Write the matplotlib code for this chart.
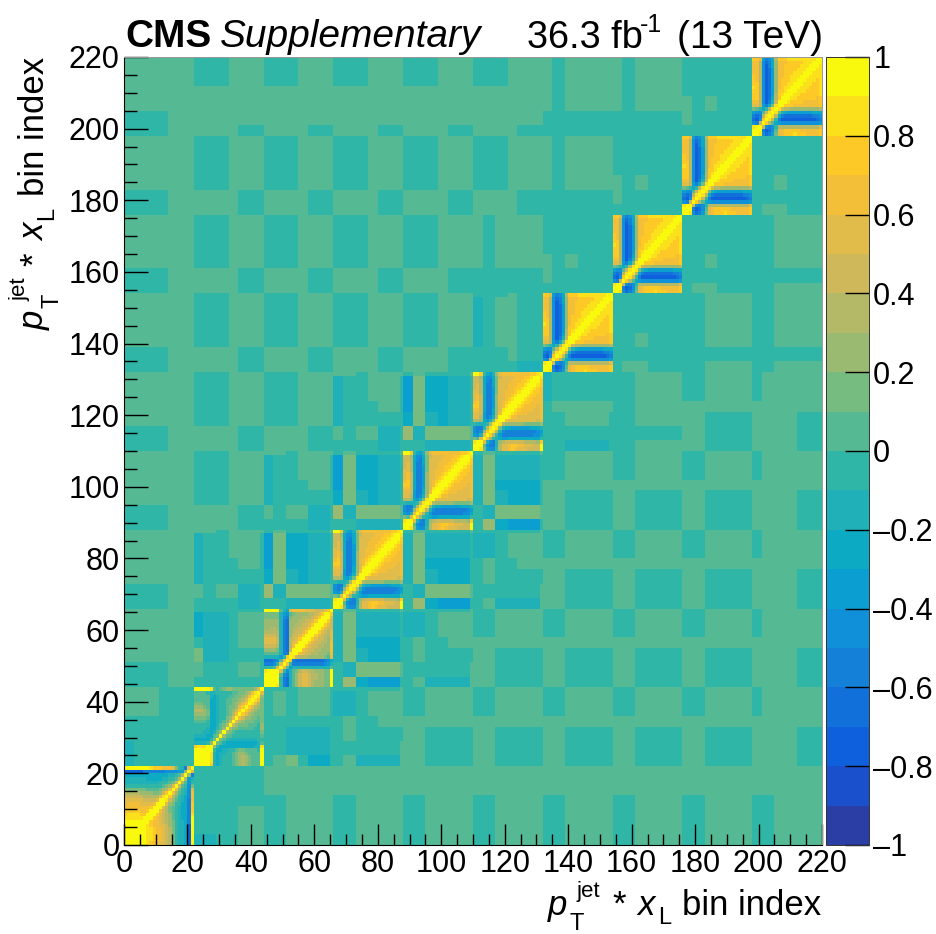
import numpy as np
import matplotlib
matplotlib.use('Agg')
import matplotlib.pyplot as plt
from matplotlib.colors import ListedColormap, BoundaryNorm

plt.rcParams['font.family'] = ['Liberation Sans', 'DejaVu Sans']

# everything below in colour bands: -10..10 means
# the band starting at value/10, so 7 is the 0.7-0.8 band

# diagonal blocks, lower triangle, 22 bins each
block0_tri = [
    [10], [10, 10], [10, 10, 10], [10, 10, 10, 10], [10, 10, 10, 10, 10],
    [9, 9, 9, 9, 10, 10],
    [9, 9, 9, 9, 9, 9, 10],
    [8, 8, 8, 8, 8, 8, 9, 10],
    [7, 8, 8, 8, 8, 7, 7, 9, 10],
    [6, 7, 7, 7, 7, 6, 6, 7, 9, 10],
    [6, 6, 6, 6, 6, 6, 6, 6, 7, 9, 10],
    [5, 6, 6, 6, 6, 5, 5, 5, 5, 6, 9, 10],
    [5, 5, 5, 5, 5, 5, 4, 4, 4, 4, 5, 9, 10],
    [4, 4, 4, 4, 4, 4, 3, 3, 3, 3, 3, 5, 8, 10],
    [3, 3, 3, 3, 3, 2, 2, 2, 2, 1, 1, 2, 4, 7, 10],
    [1, 1, 1, 1, 1, 1, 1, 0, 0, 0, 0, 1, 2, 3, 6, 10],
    [-1, -1, -1, -1, -1, -1, -1, -1, -1, -1, -1, -1, 0, 1, 2, 5, 10],
    [-2, -2, -2, -2, -2, -2, -2, -2, -2, -2, -2, -1, -1, -1, 0, 1, 4, 10],
    [-2, -2, -2, -2, -2, -2, -2, -3, -3, -3, -3, -3, -2, -2, -1, -1, 0, 3, 10],
    [-3, -3, -3, -3, -3, -3, -3, -3, -3, -3, -3, -3, -3, -3, -2, -2, -1, 0, 3, 10],
    [-8, -8, -8, -8, -8, -8, -6, -6, -6, -6, -6, -6, -6, -5, -5, -5, -5, -4, -4, 2, 10],
    [10, 10, 10, 10, 10, 10, 10, 10, 8, 7, 7, 7, 6, 6, 6, 5, 1, -1, -2, -6, 5, 10],
]
block1_tri = [
    [10], [10, 10], [10, 10, 10], [10, 10, 10, 10],
    [9, 10, 10, 10, 10],
    [7, 8, 8, 8, 9, 10],
    [-2, -2, -2, -2, -1, 2, 10],
    [-3, -3, -3, -3, -3, -1, 1, 10],
    [-2, -2, -2, -2, -3, -3, 0, 1, 10],
    [-1, -1, -1, -2, -2, -3, -2, 0, 2, 10],
    [-1, -1, -1, -1, -2, -3, -3, -1, 0, 2, 10],
    [-1, -1, -1, -1, -1, -3, -3, -2, 0, 1, 3, 10],
    [0, 0, 0, 0, -1, -3, -3, -2, -1, 0, 1, 4, 10],
    [1, 1, 1, 1, 0, -3, -3, -2, -1, -1, 1, 2, 5, 10],
    [2, 2, 2, 2, 1, -3, -3, -2, -1, -1, 0, 1, 3, 6, 10],
    [3, 3, 3, 2, 1, -3, -3, -2, -1, -1, 0, 1, 2, 4, 7, 10],
    [2, 2, 2, 1, 0, -3, -3, -2, -1, -1, 0, 1, 1, 2, 5, 7, 10],
    [1, 1, 1, 0, 0, -3, -3, -2, -1, -1, 0, 0, 1, 2, 3, 5, 7, 10],
    [0, 0, 0, 0, 0, -3, -3, -2, -1, -1, 0, 0, 1, 1, 2, 3, 5, 8, 10],
    [0, 0, 0, 0, 0, -2, -3, -2, -1, -1, -1, 0, 0, 1, 1, 2, 3, 6, 8, 10],
    [0, 0, 0, 0, -1, -2, -2, -1, -1, -1, -1, -1, 0, 0, 1, 1, 2, 3, 6, 8, 10],
    [10, 10, 10, 10, 10, 8, 0, -1, 0, 1, 2, 2, 1, 1, 1, 1, 1, 1, 1, 2, 5, 10],
]
block2_tri = [
    [10], [10, 10], [10, 10, 10], [10, 10, 10, 10],
    [8, 9, 9, 9, 10],
    [-1, -1, -1, 0, 5, 10],
    [-6, -6, -6, -5, -1, 5, 10],
    [-7, -7, -7, -6, -5, 0, 6, 10],
    [-2, -2, -2, -2, -2, -4, -1, 7, 10],
    [0, 0, 0, 0, 0, -2, -6, -6, 8, 10],
    [2, 2, 2, 2, 1, -2, -6, -7, 4, 9, 10],
    [4, 4, 4, 4, 3, -2, -6, -7, 3, 6, 9, 10],
    [5, 5, 5, 5, 4, -2, -6, -7, 3, 5, 6, 9, 10],
    [5, 5, 5, 5, 4, -2, -6, -7, 3, 4, 5, 7, 9, 10],
    [4, 4, 4, 4, 3, -2, -6, -7, 2, 4, 4, 5, 7, 9, 10],
    [3, 3, 3, 3, 3, -2, -6, -7, 2, 3, 4, 4, 5, 7, 9, 10],
    [2, 2, 3, 3, 2, -2, -6, -7, 2, 3, 3, 4, 4, 5, 7, 9, 10],
    [2, 2, 2, 2, 2, -2, -6, -7, 2, 2, 3, 3, 4, 4, 5, 7, 9, 10],
    [2, 2, 2, 2, 2, -2, -6, -7, 2, 2, 2, 3, 3, 4, 4, 5, 7, 9, 10],
    [1, 1, 1, 1, 1, -2, -5, -6, 1, 2, 2, 2, 3, 3, 3, 4, 5, 7, 9, 10],
    [1, 1, 1, 1, 1, -2, -4, -5, 0, 1, 2, 2, 2, 2, 3, 3, 4, 5, 7, 9, 10],
    [10, 10, 10, 10, 9, 0, -2, -3, 5, 6, 6, 6, 6, 5, 5, 5, 4, 4, 4, 5, 7, 10],
]
mid_tri = [
    [10], [9, 10], [8, 9, 10],
    [1, 0, 5, 10],
    [-4, -5, -2, 6, 10],
    [-5, -6, -5, 2, 7, 10],
    [-5, -6, -6, -1, 3, 8, 10],
    [-1, -2, -2, -2, -1, 3, 8, 10],
    [3, 3, 2, -3, -4, -2, 1, 8, 10],
    [5, 5, 3, -4, -6, -5, -2, 3, 9, 10],
    [5, 5, 4, -4, -6, -6, -3, 2, 6, 9, 10],
    [6, 6, 4, -3, -6, -6, -3, 2, 5, 8, 9, 10],
    [7, 7, 4, -3, -6, -6, -4, 2, 5, 6, 8, 9, 10],
    [6, 7, 4, -3, -6, -6, -4, 2, 5, 6, 7, 8, 9, 10],
    [5, 6, 4, -3, -6, -6, -4, 2, 5, 5, 6, 7, 8, 9, 10],
    [5, 6, 4, -3, -6, -6, -4, 2, 5, 5, 6, 6, 7, 8, 9, 10],
    [5, 5, 3, -3, -6, -6, -4, 1, 5, 5, 6, 6, 6, 7, 8, 9, 10],
    [4, 5, 3, -3, -6, -6, -4, 1, 5, 5, 5, 6, 6, 7, 7, 8, 9, 10],
    [4, 5, 3, -3, -6, -6, -3, 1, 5, 5, 5, 6, 6, 6, 7, 7, 8, 9, 10],
    [4, 4, 3, -3, -5, -6, -3, 1, 5, 5, 5, 5, 6, 6, 6, 7, 7, 8, 9, 10],
    [4, 4, 2, -3, -5, -5, -3, 1, 4, 5, 5, 5, 5, 6, 6, 6, 7, 7, 8, 9, 10],
    [9, 9, 7, -1, -3, -4, -2, 2, 5, 6, 6, 6, 6, 6, 6, 6, 6, 6, 7, 7, 8, 10],
]
late_tri = [
    [10], [9, 10], [8, 9, 10],
    [-5, -6, 4, 10],
    [-7, -8, -5, 7, 10],
    [-6, -7, -6, 3, 8, 10],
    [-4, -5, -5, 0, 4, 8, 10],
    [1, 0, -1, -3, -1, 3, 8, 10],
    [5, 5, 3, -4, -6, -3, 1, 8, 10],
    [6, 6, 3, -5, -8, -6, -2, 4, 9, 10],
    [7, 7, 3, -5, -8, -7, -3, 3, 7, 9, 10],
    [7, 7, 3, -5, -8, -7, -4, 3, 7, 8, 9, 10],
    [7, 7, 3, -5, -8, -7, -4, 2, 7, 7, 8, 9, 10],
    [8, 7, 3, -5, -8, -7, -4, 2, 6, 7, 8, 8, 9, 10],
    [7, 7, 3, -5, -8, -7, -4, 2, 6, 7, 7, 8, 8, 9, 10],
    [7, 6, 3, -5, -8, -7, -4, 2, 6, 7, 7, 7, 8, 8, 9, 10],
    [7, 6, 3, -5, -8, -7, -4, 2, 6, 6, 7, 7, 8, 8, 8, 9, 10],
    [6, 6, 3, -5, -8, -7, -4, 2, 6, 6, 7, 7, 7, 8, 8, 8, 9, 10],
    [6, 6, 3, -5, -8, -7, -4, 2, 6, 6, 7, 7, 7, 7, 8, 8, 8, 9, 10],
    [6, 6, 3, -5, -8, -6, -3, 2, 6, 6, 7, 7, 7, 7, 7, 8, 8, 8, 9, 10],
    [6, 6, 3, -5, -7, -6, -3, 2, 6, 6, 6, 7, 7, 7, 7, 7, 8, 8, 8, 9, 10],
    [7, 7, 5, -4, -6, -5, -3, 3, 7, 7, 7, 8, 8, 8, 8, 8, 8, 8, 8, 8, 9, 10],
]
diag_blocks = [block0_tri, block1_tri, block2_tri, mid_tri, mid_tri, mid_tri,
               late_tri, late_tri, late_tri, late_tri]

# off-diagonal block pairs on a coarse grid: rows are the lower block, columns
# the higher block
seg_edges = [0, 3, 7, 11, 14, 21, 22]
far = [[0, 0, -1, -1, -1, -1], [0, 0, -1, -1, -1, -1], [0, 0, -1, -1, -1, -1],
       [0, 0, 0, 0, 0, 0], [-1, -1, 0, 0, 0, 0], [-1, -1, 0, 0, 0, 0]]
far_top = [[0, 0, 0, 0, -1, -1], [0, 0, 0, 0, -1, -1], [0, 0, 0, 0, -1, -1],
           [0, 0, 0, 0, 0, 0], [-1, 0, 0, 0, 0, 0], [-1, 0, 0, 0, 0, 0]]
first = [[-1, -1, 0, 0, 0, 0], [-1, -1, 0, 0, 0, 0], [-1, -1, 0, 0, 0, 0],
         [-1, -1, 0, 0, 0, 0], [0, 0, 0, 0, 0, 0], [0, 0, 0, 0, 0, 0]]
even = [[-1, -1, 0, 0, 0, 0], [-1, -1, -1, -1, -1, -1], [-1, -1, 0, 0, 0, 0],
        [-1, -1, 0, 0, 0, 0], [-1, -1, 0, 0, 0, 0], [-1, -1, 0, 0, 0, 0]]
adjacent = [[-1, 0, 0, -1, -1, -1], [-1, -1, -1, -1, -1, -1], [-1, -1, 0, -1, -1, -1],
            [-1, -1, -1, -1, -1, -1], [-1, -1, -1, -1, -1, -1], [-1, -1, -1, -1, -1, -1]]
mid_gap = [[-1, 0, -2, -2, -2, 0], [-1, -1, -1, -1, -1, 0], [-1, 0, -1, -1, -1, -1],
           [-1, 0, -1, -1, 0, 0], [-2, -2, -1, 0, 0, 0], [-1, -1, -1, -1, -1, 0]]
strong = [[-1, 2, -3, -4, -4, -1], [-1, -2, 1, 1, 1, 0], [-2, 1, -2, -3, -3, -1],
          [-2, 1, -3, -3, -3, -1], [-2, 1, -2, -2, -2, -1], [-1, 0, -1, -1, -1, 0]]
weak = [[-1, 0, 1, -1, -3, -1], [-1, -1, -2, -2, -2, -1], [-1, -1, -2, -2, -2, -1],
        [-1, -1, -1, -1, -1, -1], [-1, 0, -1, 0, 0, -1], [-1, -1, -1, 0, 0, -1]]
zero_one = [[-2, -2, -1, -1, 0, 0], [-1, -1, -1, -1, 0, 0], [-1, -1, -1, -1, 0, 0],
            [-1, -1, -1, -1, -1, -1], [-1, -1, -1, -1, -1, -1], [-1, -1, -1, -1, -1, -1]]
five_six = [[-1, -1, -2, -2, -2, -1], [-1, -1, -1, -1, -1, -1], [-1, -1, 0, 0, 0, -1],
            [-1, 0, 0, 0, 0, 0], [-2, -1, -1, -1, -1, -1], [-2, -1, -1, -1, -1, -1]]

# which table each pair of blocks looks like, one row per lower block
pair_tables = [
    [zero_one, first, first, first, first, first, first, first, first],
    [weak, mid_gap, far, far, far, far, far, far_top],
    [strong, mid_gap, far, far, far, far, far_top],
    [strong, mid_gap, far, far, far, far_top],
    [strong, far, far, far, far_top],
    [five_six, even, far, far_top],
    [adjacent, even, even],
    [adjacent, even],
    [adjacent],
]

x_ticks = [0, 20, 40, 60, 80, 100, 120, 140, 160, 180, 200, 220]
z_ticks = [-1, -0.8, -0.6, -0.4, -0.2, 0, 0.2, 0.4, 0.6, 0.8, 1]
z_labels = ['\u20131', '\u20130.8', '\u20130.6', '\u20130.4', '\u20130.2', '0',
            '0.2', '0.4', '0.6', '0.8', '1']

# the 20 contour colours of the palette bar, bottom to top
bar_colors = ['#2a3ea6', '#1a50cc', '#0f60dc', '#1270da', '#1480d8',
              '#1090d8', '#0a9fd0', '#0daac4', '#1fb0b8', '#2fb6a6',
              '#55ba94', '#76bb80', '#9aba72', '#b4b968', '#cfb85a',
              '#e2bc4b', '#f3bf38', '#fdc927', '#fbe11c', '#f9f90e']
cmap = ListedColormap(bar_colors)
levels = np.arange(-10, 11) / 10
norm = BoundaryNorm(levels, 20)

# put the matrix together, band number -> middle of the band
n = 22
seg = np.diff(seg_edges)
bands = np.zeros((220, 220))
for b, tri in enumerate(diag_blocks):
    t = np.zeros((n, n))
    for r, row in enumerate(tri):
        t[r, :r + 1] = row
        t[:r + 1, r] = row
    bands[b * n:(b + 1) * n, b * n:(b + 1) * n] = t
for lo, row in enumerate(pair_tables):
    for k, table in enumerate(row):
        hi = lo + k + 1
        t = np.repeat(np.repeat(np.array(table), seg, axis=0), seg, axis=1)
        bands[lo * n:(lo + 1) * n, hi * n:(hi + 1) * n] = t
        bands[hi * n:(hi + 1) * n, lo * n:(lo + 1) * n] = t.T
z = np.clip((bands + 0.5) / 10, -0.95, 0.95)

W, H = 937, 934
fig = plt.figure(figsize=(W / 100, H / 100), dpi=100)
ax = fig.add_axes([124 / W, 1 - 845 / H, 698 / W, 788 / H])
cax = fig.add_axes([826 / W, 1 - 845 / H, 43 / W, 788 / H])

edges = np.arange(221)
mesh = ax.pcolormesh(edges, edges, z, cmap=cmap, norm=norm, rasterized=True)
ax.set_xlim(0, 220)
ax.set_ylim(0, 220)
ax.set_xticks(x_ticks)
ax.set_yticks(x_ticks)
ax.set_xticks(np.arange(0, 221, 5), minor=True)
ax.set_yticks(np.arange(0, 221, 5), minor=True)
ax.tick_params(which='major', direction='in', length=17, width=1, labelsize=22, pad=3)
ax.tick_params(which='minor', direction='in', length=9, width=1)
ax.tick_params(axis='x', which='major', length=15)
ax.tick_params(axis='x', which='minor', length=8)
for side in ['top', 'right']:
    ax.spines[side].set_color('#999999')
    ax.spines[side].set_linewidth(0.7)

cb = fig.colorbar(mesh, cax=cax, ticks=z_ticks, spacing='proportional')
cb.ax.set_yticklabels(z_labels)
cb.ax.tick_params(which='both', direction='in', length=17, width=1, labelsize=22, pad=3)
cb.ax.minorticks_off()
cb.outline.set_linewidth(0.7)
cb.outline.set_edgecolor('#333333')


def px_text(x, y, s, size, **kw):
    fig.text(x / W, 1 - y / H, s, fontsize=size, va='baseline', **kw)


px_text(125, 47, 'CMS', 28, fontweight='bold')
px_text(220, 47, 'Supplementary', 28, style='italic')
px_text(527, 48, '36.3 fb', 27.4)
px_text(640, 32, '-1', 18)
px_text(677, 48, '(13 TeV)', 28)

# axis title pieces: text, distance along the title, offset below the baseline,
# size, style
title_parts = [('p', 0, 0, 25, 'italic'), ('T', 22, 15, 17, 'normal'),
               ('jet', 29, -18, 16, 'normal'), ('*', 64, 0, 25, 'normal'),
               ('x', 89, 0, 25, 'italic'), ('L', 110, 9, 17, 'normal'),
               ('bin index', 134, 0, 25, 'normal')]
for s, along, below, size, style in title_parts:
    px_text(548 + along, 915 + below, s, size, style=style)
    fig.text((44 + below) / W, 1 - (330 - along) / H, s, fontsize=size, style=style,
             rotation=90, rotation_mode='anchor', va='baseline', ha='left')

fig.savefig('out.png', dpi=100)
